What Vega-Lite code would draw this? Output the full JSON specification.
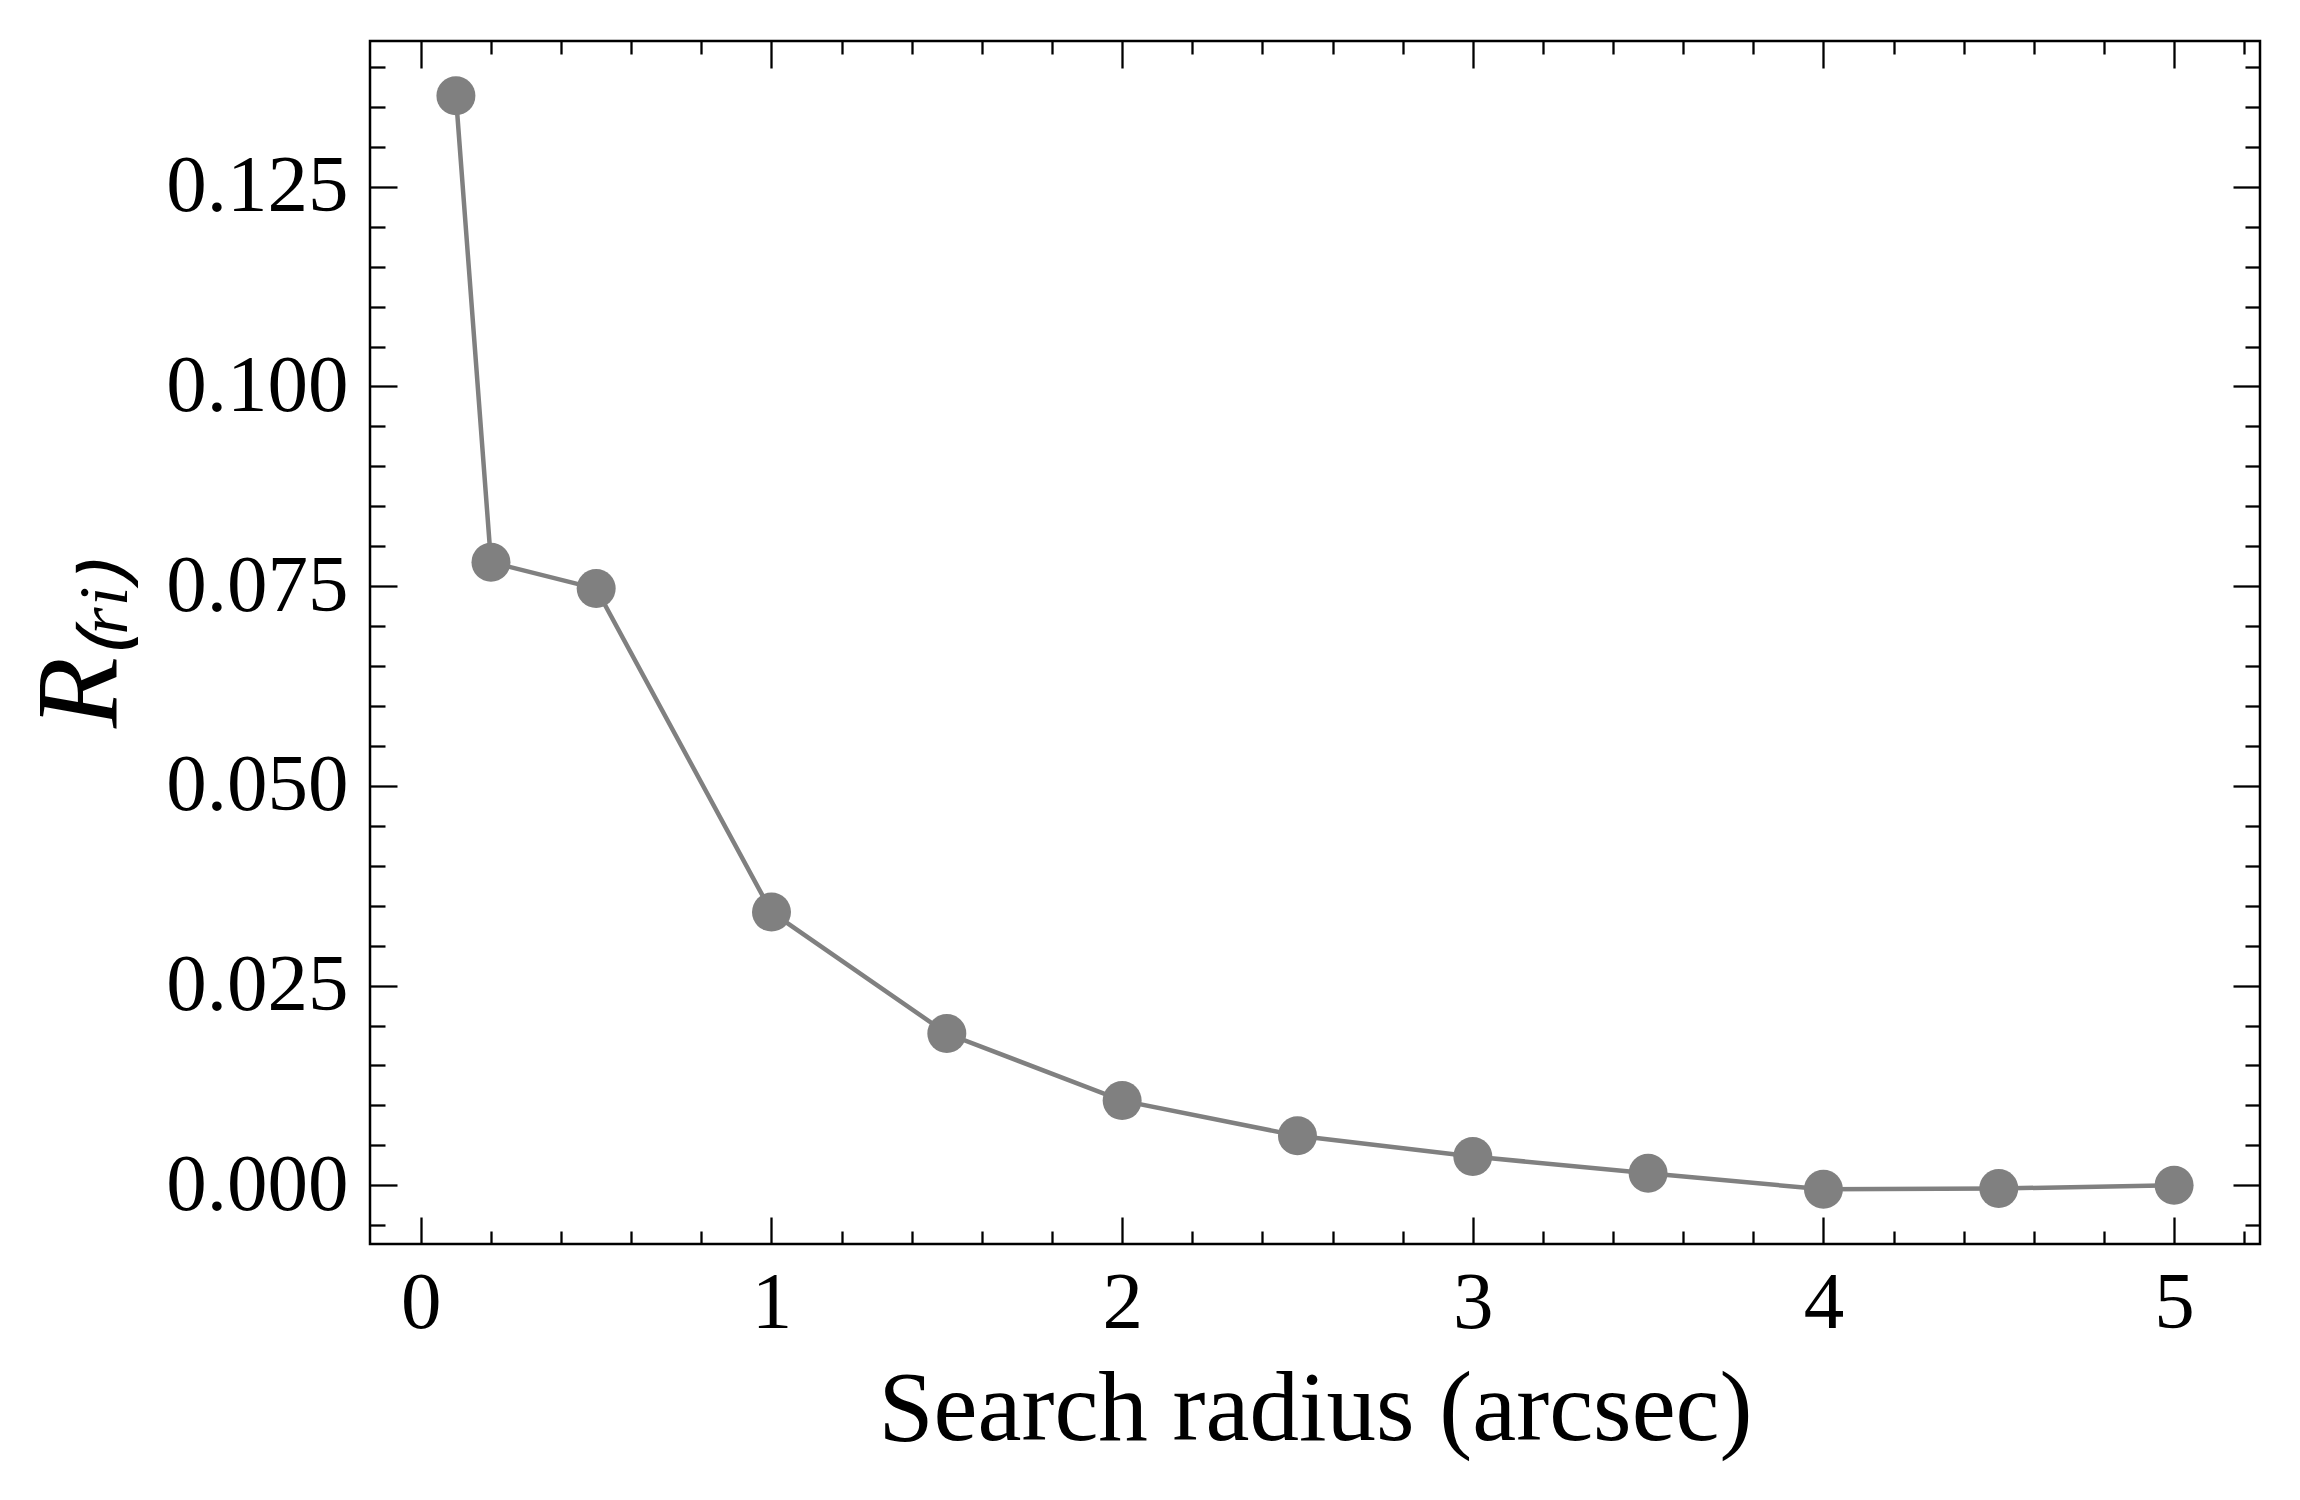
{
  "$schema": "https://vega.github.io/schema/vega-lite/v6.json",
  "autosize": {"type": "none"},
  "padding": {"left": 370, "top": 41, "right": 40, "bottom": 256},
  "width": 1890,
  "height": 1203,
  "data": {"values": [
    {"r": 0.1, "R": 0.1364},
    {"r": 0.2, "R": 0.0780},
    {"r": 0.5, "R": 0.0747},
    {"r": 1.0, "R": 0.0342},
    {"r": 1.5, "R": 0.0190},
    {"r": 2.0, "R": 0.0106},
    {"r": 2.5, "R": 0.0062},
    {"r": 3.0, "R": 0.0036},
    {"r": 3.5, "R": 0.0015},
    {"r": 4.0, "R": -0.0005},
    {"r": 4.5, "R": -0.0004},
    {"r": 5.0, "R": 0.0000}
  ]},
  "config": {
    "view": {"stroke": "black", "strokeWidth": 2.5},
    "axis": {
      "domain": false,
      "grid": false,
      "tickColor": "black",
      "tickWidth": 2.3,
      "labelFont": "Liberation Serif",
      "labelFontSize": 81,
      "labelColor": "black",
      "labelLimit": 0,
      "titleFont": "Liberation Serif",
      "titleFontSize": 99,
      "titleFontWeight": "normal",
      "titleColor": "black",
      "titleLimit": 0
    }
  },
  "resolve": {"axis": {"x": "independent", "y": "independent"}},
  "layer": [
    {
      "mark": {"type": "line", "color": "#808080", "strokeWidth": 4.5},
      "encoding": {
        "x": {"field": "r", "type": "quantitative",
              "scale": {"domain": [-0.145, 5.245], "nice": false, "zero": false},
              "axis": {"orient": "bottom", "values": [0, 1, 2, 3, 4, 5], "ticks": false, "format": "d",
                       "labelPadding": 19, "title": "Search radius (arcsec)", "titlePadding": 18}},
        "y": {"field": "R", "type": "quantitative",
              "scale": {"domain": [-0.00735, 0.14325], "nice": false, "zero": false},
              "axis": {"orient": "left", "values": [0, 0.025, 0.05, 0.075, 0.1, 0.125], "ticks": false, "format": ".3f",
                       "labelPadding": 22, "title": "R₍ᵣᵢ₎", "titleFontStyle": "italic", "titleFontSize": 116, "titlePadding": 30}}
      }
    },
    {
      "mark": {"type": "point", "filled": true, "color": "#808080", "opacity": 1, "size": 1520},
      "encoding": {
        "x": {"field": "r", "type": "quantitative", "axis": null},
        "y": {"field": "R", "type": "quantitative", "axis": null}
      }
    },
    {
      "mark": {"type": "point", "opacity": 0},
      "encoding": {
        "x": {"field": "r", "type": "quantitative",
              "axis": {"orient": "bottom", "values": [0, 1, 2, 3, 4, 5], "tickSize": -27, "labels": false, "title": null}},
        "y": {"field": "R", "type": "quantitative",
              "axis": {"orient": "left", "values": [0, 0.025, 0.05, 0.075, 0.1, 0.125], "tickSize": -27, "labels": false, "title": null}}
      }
    },
    {
      "mark": {"type": "point", "opacity": 0},
      "encoding": {
        "x": {"field": "r", "type": "quantitative",
              "axis": {"orient": "bottom", "values": [0.2, 0.4, 0.6, 0.8, 1.2, 1.4, 1.6, 1.8, 2.2, 2.4, 2.6, 2.8, 3.2, 3.4, 3.6, 3.8, 4.2, 4.4, 4.6, 4.8, 5.2], "tickSize": -13, "labels": false, "title": null}},
        "y": {"field": "R", "type": "quantitative",
              "axis": {"orient": "left", "values": [-0.005, 0.005, 0.01, 0.015, 0.02, 0.03, 0.035, 0.04, 0.045, 0.055, 0.06, 0.065, 0.07, 0.08, 0.085, 0.09, 0.095, 0.105, 0.11, 0.115, 0.12, 0.13, 0.135, 0.14], "tickSize": -15, "labels": false, "title": null}}
      }
    },
    {
      "mark": {"type": "point", "opacity": 0},
      "encoding": {
        "x": {"field": "r", "type": "quantitative",
              "axis": {"orient": "top", "values": [0, 1, 2, 3, 4, 5], "tickSize": -27, "labels": false, "title": null}},
        "y": {"field": "R", "type": "quantitative",
              "axis": {"orient": "right", "values": [0, 0.025, 0.05, 0.075, 0.1, 0.125], "tickSize": -27, "labels": false, "title": null}}
      }
    },
    {
      "mark": {"type": "point", "opacity": 0},
      "encoding": {
        "x": {"field": "r", "type": "quantitative",
              "axis": {"orient": "top", "values": [0.2, 0.4, 0.6, 0.8, 1.2, 1.4, 1.6, 1.8, 2.2, 2.4, 2.6, 2.8, 3.2, 3.4, 3.6, 3.8, 4.2, 4.4, 4.6, 4.8, 5.2], "tickSize": -13, "labels": false, "title": null}},
        "y": {"field": "R", "type": "quantitative",
              "axis": {"orient": "right", "values": [-0.005, 0.005, 0.01, 0.015, 0.02, 0.03, 0.035, 0.04, 0.045, 0.055, 0.06, 0.065, 0.07, 0.08, 0.085, 0.09, 0.095, 0.105, 0.11, 0.115, 0.12, 0.13, 0.135, 0.14], "tickSize": -15, "labels": false, "title": null}}
      }
    }
  ]
}
